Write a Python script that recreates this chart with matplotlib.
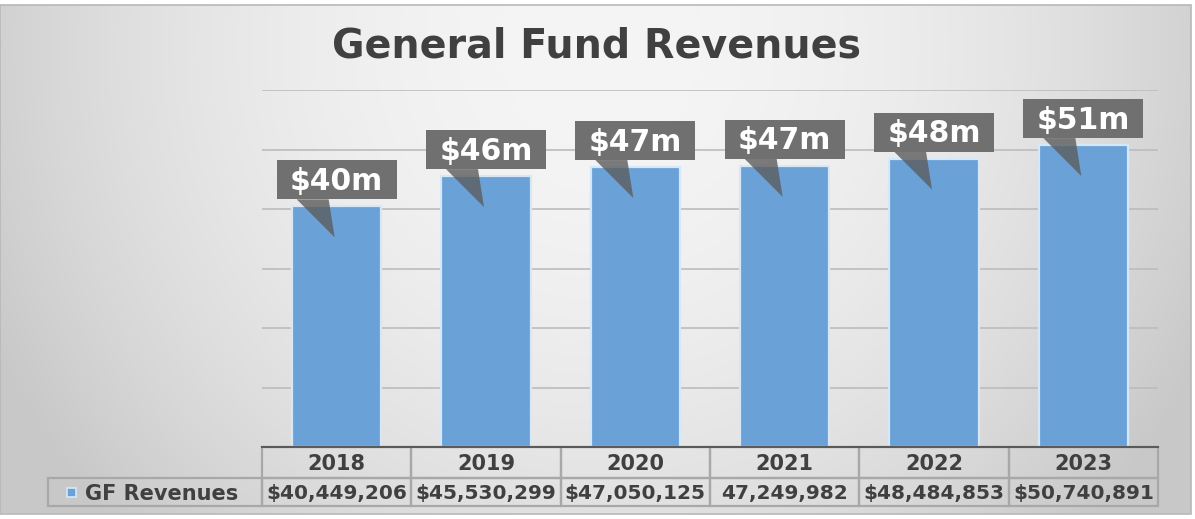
import numpy as np
import matplotlib
matplotlib.use("Agg")
import matplotlib.pyplot as plt
from matplotlib.patches import Rectangle, Polygon
from matplotlib.transforms import Affine2D, ScaledTranslation, blended_transform_factory

# ---- data -------------------------------------------------------------
years = ["2018", "2019", "2020", "2021", "2022", "2023"]
revenues = [40449206, 45530299, 47050125, 47249982, 48484853, 50740891]
currency_mark = ["$", "$", "$", "", "$", "$"]
series_name = "GF Revenues"
title = "General Fund Revenues"

BAR = "#6aa2d8"
BAR_EDGE = "#d6e8f8"
TEXT = "#404040"
CALLOUT = "#707070"
GRID = "#bcbcbc"
CELL_LINE = "#a8a8a8"

W, H, DPI = 1195, 519, 100
fig = plt.figure(figsize=(W / DPI, H / DPI), dpi=DPI, facecolor="white")

# ---- soft grey background ---------------------------------------------
bg = fig.add_axes([0, 5 / H, 1191 / W, 509 / H], zorder=-10)
yy, xx = np.mgrid[0:509, 0:1191]
r2 = ((xx - 600) / 620.0) ** 2 + ((yy - 40) / 640.0) ** 2
shade = np.clip(245 - 38 * r2, 200, 246) / 255.0
bg.imshow(np.dstack([shade] * 3), aspect="auto", interpolation="bilinear")
bg.set_axis_off()
fig.add_artist(Rectangle((0, 5 / H), 1191 / W, 509 / H, transform=fig.transFigure,
                         fill=False, edgecolor="#b8b8b8", lw=1.2))

# ---- plot area ----------------------------------------------------------
ax = fig.add_axes([262 / W, (H - 447) / H, 896 / W, 357 / H])
ax.set_facecolor("none")
x = np.arange(len(years))
ax.bar(x, revenues, width=0.6, color=BAR, edgecolor=BAR_EDGE, linewidth=1.6, zorder=2)
ax.set_xlim(-0.5, len(years) - 0.5)
ax.set_ylim(0, 60e6)
ax.set_yticks(np.arange(0, 60e6 + 1, 10e6))
ax.yaxis.grid(True, color=GRID, lw=1.2)
ax.set_axisbelow(True)
ax.tick_params(left=False, bottom=False, labelleft=False, labelbottom=False)
for s in ax.spines.values():
    s.set_visible(False)

# ---- value call-outs (offsets in pixels from the top of each bar) -------
px = Affine2D().scale(1.0 / DPI) + fig.dpi_scale_trans
for i, v in enumerate(revenues):
    tr = px + ScaledTranslation(i, v, ax.transData)
    ax.add_patch(Polygon([(-40, 7), (-8, 7), (-2, -31)], closed=True, transform=tr,
                         facecolor="#5c5c5c", alpha=0.8, edgecolor="none",
                         zorder=4, clip_on=False))
    ax.add_patch(Rectangle((-60, 7), 120, 39, transform=tr, facecolor=CALLOUT,
                           edgecolor="none", zorder=5, clip_on=False))
    ax.text(0, 16.5, f"${round(v / 1e6)}m", transform=tr, ha="center", va="baseline",
            color="white", fontsize=21.5, fontweight="bold", family="DejaVu Sans",
            zorder=6, clip_on=False)

# ---- data table under the axis ------------------------------------------
bt = blended_transform_factory(ax.transData, ax.transAxes)
r1 = 31 / 357
r2h = 28 / 357
for i, (yr, v) in enumerate(zip(years, revenues)):
    ax.add_patch(Rectangle((i - 0.5, -r1), 1, r1, transform=bt, fill=False,
                           edgecolor=CELL_LINE, lw=1.6, clip_on=False, zorder=3))
    ax.add_patch(Rectangle((i - 0.5, -r1 - r2h), 1, r2h, transform=bt, fill=False,
                           edgecolor=CELL_LINE, lw=1.6, clip_on=False, zorder=3))
    ax.text(i, -r1 / 2, yr, transform=bt, ha="center", va="center_baseline",
            fontsize=15, fontweight="bold", color=TEXT, family="DejaVu Sans")
    ax.text(i, -r1 - r2h / 2, f"{currency_mark[i]}{v:,}", transform=bt, ha="center",
            va="center_baseline", fontsize=14.5, fontweight="bold", color=TEXT,
            family="DejaVu Sans")

# series label cell with legend key
lw_frac = 214 / 896
ax.add_patch(Rectangle((-lw_frac, -r1 - r2h), lw_frac, r2h, transform=ax.transAxes,
                       fill=False, edgecolor=CELL_LINE, lw=1.6, clip_on=False, zorder=3))
ax.add_patch(Rectangle((-195 / 896, -r1 - r2h / 2 - 4.5 / 357), 9 / 896, 9 / 357,
                       transform=ax.transAxes, facecolor=BAR, edgecolor=BAR_EDGE,
                       lw=1.2, clip_on=False, zorder=4))
ax.text(-177 / 896, -r1 - r2h / 2, series_name, transform=ax.transAxes, ha="left",
        va="center_baseline", fontsize=15, fontweight="bold", color=TEXT,
        family="DejaVu Sans")

# axis baseline along the top of the table
ax.plot([0, 1], [0, 0], transform=ax.transAxes, color="#5a5a5a", lw=1.5,
        clip_on=False, zorder=4)

# ---- title ----------------------------------------------------------------
fig.text(597 / W, 1 - 57 / H, title, ha="center", va="baseline", fontsize=28.5,
         fontweight="bold", color=TEXT, family="DejaVu Sans")

fig.savefig("out.png", dpi=DPI, facecolor=fig.get_facecolor())
